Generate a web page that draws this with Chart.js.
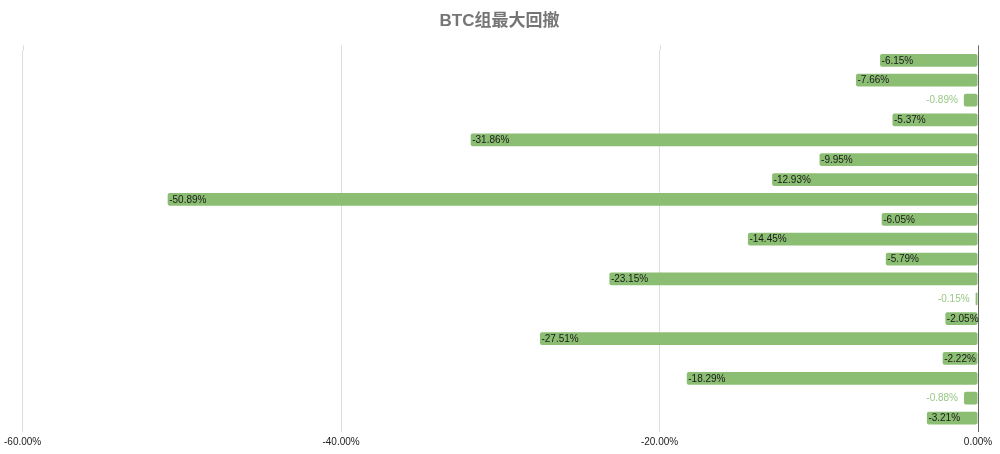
<!DOCTYPE html>
<html>
<head>
<meta charset="utf-8">
<script src="https://cdn.jsdelivr.net/npm/chart.js@4/dist/chart.umd.min.js"></script>
<style>
  html, body { margin: 0; padding: 0; background: #fff; }
  #wrap { width: 1000px; height: 454px; }
</style>
</head>
<body>
<div id="wrap"><canvas id="grafico"></canvas></div>
<script>
const titulo = 'BTC组最大回撤';
const categorias = ['1', '2', '3', '4', '5', '6', '7', '8', '9', '10', '11', '12', '13', '14', '15', '16', '17', '18', '19'];
const retracao = [-6.15, -7.66, -0.89, -5.37, -31.86, -9.95, -12.93, -50.89, -6.05, -14.45, -5.79, -23.15, -0.15, -2.05, -27.51, -2.22, -18.29, -0.88, -3.21];
const ticksX = [-60, -40, -20, 0];

const corBarra = '#8bbe73';
const corTextoFora = '#98c884';

// rotulos dentro da barra (ou fora quando nao cabe)
const rotulos = {
    id: 'rotulos',
    afterDatasetsDraw(chart) {
        const ctx = chart.ctx;
        const meta = chart.getDatasetMeta(0);
        ctx.save();
        ctx.font = '10px "Liberation Sans", Arial, sans-serif';
        ctx.textBaseline = 'middle';
        meta.data.forEach((bar, i) => {
            const txt = retracao[i].toFixed(2) + '%';
            const w = ctx.measureText(txt).width;
            const largura = Math.abs(bar.base - bar.x);
            if (largura >= w - 6) {
                ctx.fillStyle = '#1a1a1a';
                ctx.textAlign = 'left';
                ctx.fillText(txt, bar.x + 1.5, bar.y + 0.5);
            } else {
                ctx.fillStyle = corTextoFora;
                ctx.textAlign = 'right';
                ctx.fillText(txt, bar.x - 6, bar.y + 0.5);
            }
        });
        ctx.restore();
    }
};

// grade um pouco acima da area
const gradeTopo = {
    id: 'gradeTopo',
    beforeDatasetsDraw(chart) {
        const ctx = chart.ctx;
        const sx = chart.scales.x;
        const top = chart.chartArea.top;
        ctx.save();
        ctx.lineWidth = 1;
        ticksX.forEach(v => {
            const x = Math.round(sx.getPixelForValue(v)) + 0.5;
            ctx.strokeStyle = v === 0 ? '#666666' : '#dddddd';
            ctx.beginPath();
            ctx.moveTo(x, top - 5);
            ctx.lineTo(x, top);
            ctx.stroke();
        });
        ctx.restore();
    }
};

new Chart(document.getElementById('grafico'), {
    type: 'bar',
    data: {
        labels: categorias,
        datasets: [{
            data: retracao,
            backgroundColor: corBarra,
            borderRadius: 2,
            borderSkipped: false,
            categoryPercentage: 1,
            barPercentage: 0.64
        }]
    },
    options: {
        indexAxis: 'y',
        responsive: true,
        maintainAspectRatio: false,
        animation: false,
        layout: { padding: { left: 21, right: 22, top: 0, bottom: 2 } },
        plugins: {
            legend: { display: false },
            tooltip: { enabled: false },
            title: {
                display: true,
                text: titulo,
                color: '#757575',
                font: { size: 17, weight: 'bold', family: '"Liberation Sans", "Noto Sans CJK SC", sans-serif' },
                padding: { top: 11, bottom: 19 }
            }
        },
        scales: {
            x: {
                min: -60,
                max: 0,
                afterBuildTicks(scale) {
                    scale.ticks = ticksX.map(v => ({ value: v }));
                },
                grid: {
                    color: ctx => ctx.tick && ctx.tick.value === 0 ? '#666666' : '#dddddd',
                    drawTicks: true,
                    tickLength: 4
                },
                border: { display: false },
                ticks: {
                    color: '#222',
                    padding: 4,
                    maxRotation: 0,
                    font: { size: 10, family: '"Liberation Sans", Arial, sans-serif' },
                    callback: v => v.toFixed(2) + '%'
                }
            },
            y: {
                display: false
            }
        }
    },
    plugins: [rotulos, gradeTopo]
});
</script>
</body>
</html>
